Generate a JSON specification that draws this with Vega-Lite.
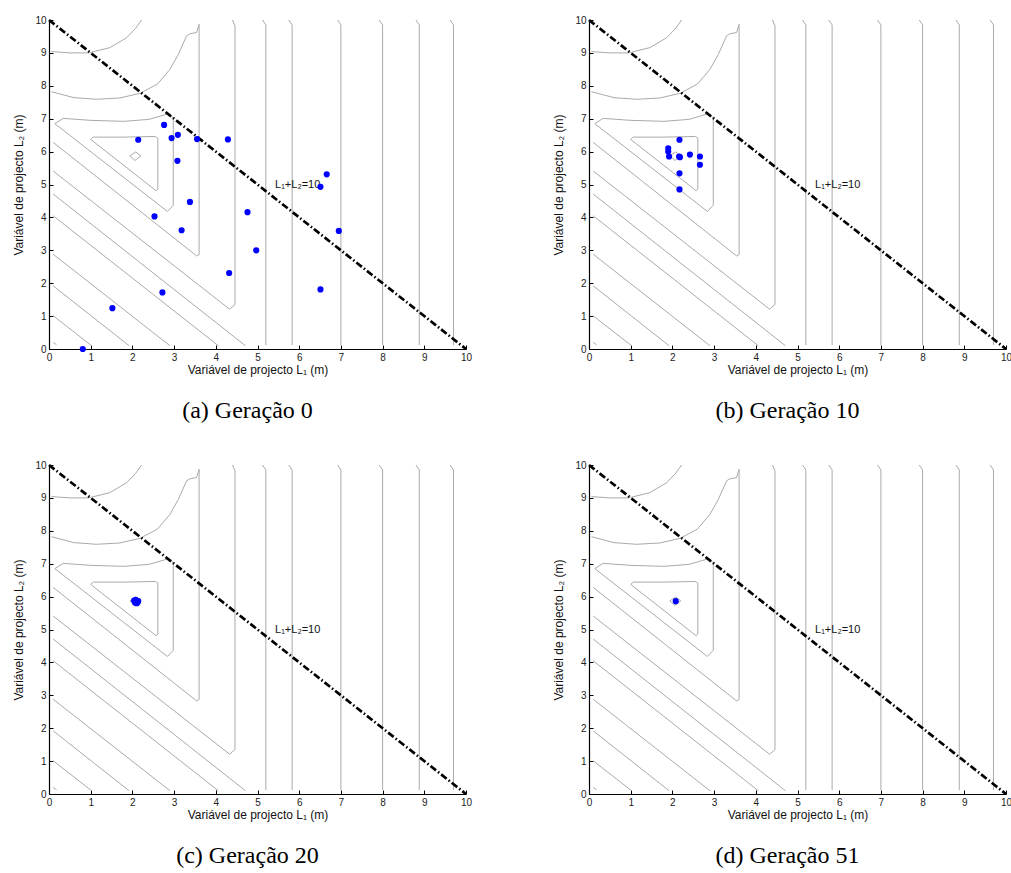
{
  "$schema": "https://vega.github.io/schema/vega-lite/v6.json",
  "background": "white",
  "padding": {"left": 12, "top": 14, "right": 0, "bottom": 0},
  "columns": 2,
  "spacing": {"row": 36, "column": 80},
  "datasets": {
    "contours": [
      {"id":1,"o":1,"x":1.94,"y":5.87},{"id":1,"o":2,"x":2.08,"y":5.99},{"id":1,"o":3,"x":2.2,"y":5.87},{"id":1,"o":4,"x":2.06,"y":5.73},{"id":1,"o":5,"x":1.94,"y":5.87},
      {"id":2,"o":1,"x":1.0,"y":6.37},{"id":2,"o":2,"x":1.06,"y":6.44},{"id":2,"o":3,"x":1.8,"y":6.44},{"id":2,"o":4,"x":2.55,"y":6.46},{"id":2,"o":5,"x":2.61,"y":6.41},{"id":2,"o":6,"x":2.61,"y":4.86},{"id":2,"o":7,"x":2.57,"y":4.81},{"id":2,"o":8,"x":1.0,"y":6.37},
      {"id":3,"o":1,"x":0.14,"y":6.85},{"id":3,"o":2,"x":0.34,"y":7.01},{"id":3,"o":3,"x":1.0,"y":6.95},{"id":3,"o":4,"x":1.8,"y":6.92},{"id":3,"o":5,"x":2.4,"y":6.98},{"id":3,"o":6,"x":2.86,"y":7.15},{"id":3,"o":7,"x":2.98,"y":7.03},{"id":3,"o":8,"x":2.98,"y":4.37},{"id":3,"o":9,"x":2.84,"y":4.18},{"id":3,"o":10,"x":0.14,"y":6.85},
      {"id":4,"o":1,"x":0.06,"y":7.82},{"id":4,"o":2,"x":0.6,"y":7.64},{"id":4,"o":3,"x":1.14,"y":7.59},{"id":4,"o":4,"x":1.7,"y":7.63},{"id":4,"o":5,"x":2.18,"y":7.77},{"id":4,"o":6,"x":2.6,"y":8.05},{"id":4,"o":7,"x":2.9,"y":8.5},{"id":4,"o":8,"x":3.1,"y":8.95},{"id":4,"o":9,"x":3.3,"y":9.52},{"id":4,"o":10,"x":3.38,"y":9.58},{"id":4,"o":11,"x":3.54,"y":9.62},{"id":4,"o":12,"x":3.6,"y":9.87},{"id":4,"o":13,"x":3.6,"y":2.87},{"id":4,"o":14,"x":3.54,"y":2.83},{"id":4,"o":15,"x":0.1,"y":6.28},
      {"id":5,"o":1,"x":4.4,"y":10.0},{"id":5,"o":2,"x":4.46,"y":9.82},{"id":5,"o":3,"x":4.46,"y":1.35},{"id":5,"o":4,"x":4.33,"y":1.21},{"id":5,"o":5,"x":0.1,"y":5.41},
      {"id":6,"o":1,"x":0.06,"y":9.04},{"id":6,"o":2,"x":0.5,"y":9.0},{"id":6,"o":3,"x":0.95,"y":9.0},{"id":6,"o":4,"x":1.46,"y":9.16},{"id":6,"o":5,"x":1.86,"y":9.46},{"id":6,"o":6,"x":2.08,"y":9.75},{"id":6,"o":7,"x":2.22,"y":10.0},
      {"id":7,"o":1,"x":0.1,"y":4.71},{"id":7,"o":2,"x":4.71,"y":0.1},
      {"id":8,"o":1,"x":0.1,"y":4.05},{"id":8,"o":2,"x":4.06,"y":0.1},
      {"id":9,"o":1,"x":0.1,"y":2.88},{"id":9,"o":2,"x":2.9,"y":0.1},
      {"id":10,"o":1,"x":0.1,"y":1.92},{"id":10,"o":2,"x":1.92,"y":0.1},
      {"id":11,"o":1,"x":0.1,"y":1.01},{"id":11,"o":2,"x":1.02,"y":0.1},
      {"id":12,"o":1,"x":0.1,"y":0.2},{"id":12,"o":2,"x":0.18,"y":0.13},
      {"id":13,"o":1,"x":5.12,"y":10.0},{"id":13,"o":2,"x":5.2,"y":9.85},{"id":13,"o":3,"x":5.2,"y":0.12},
      {"id":14,"o":1,"x":5.75,"y":10.0},{"id":14,"o":2,"x":5.83,"y":9.85},{"id":14,"o":3,"x":5.83,"y":0.12},
      {"id":15,"o":1,"x":6.92,"y":10.0},{"id":15,"o":2,"x":7.0,"y":9.85},{"id":15,"o":3,"x":7.0,"y":0.12},
      {"id":16,"o":1,"x":7.92,"y":10.0},{"id":16,"o":2,"x":8.0,"y":9.85},{"id":16,"o":3,"x":8.0,"y":0.12},
      {"id":17,"o":1,"x":8.8,"y":10.0},{"id":17,"o":2,"x":8.88,"y":9.85},{"id":17,"o":3,"x":8.88,"y":0.12},
      {"id":18,"o":1,"x":9.62,"y":10.0},{"id":18,"o":2,"x":9.7,"y":9.85},{"id":18,"o":3,"x":9.7,"y":0.12}
    ],
    "diag": [{"x":0,"y":10},{"x":10,"y":0}],
    "lab": [{"x":5.42,"y":5.0,"t":"L₁+L₂=10"}],
    "pts": [
      {"p":"a","x":2.14,"y":6.36},{"p":"a","x":2.76,"y":6.81},{"p":"a","x":2.94,"y":6.41},{"p":"a","x":3.09,"y":6.51},{"p":"a","x":3.55,"y":6.38},
      {"p":"a","x":4.29,"y":6.37},{"p":"a","x":3.08,"y":5.72},{"p":"a","x":3.38,"y":4.47},{"p":"a","x":2.53,"y":4.03},{"p":"a","x":3.18,"y":3.61},
      {"p":"a","x":4.76,"y":4.16},{"p":"a","x":4.97,"y":3.0},{"p":"a","x":4.32,"y":2.31},{"p":"a","x":2.72,"y":1.72},{"p":"a","x":1.52,"y":1.24},
      {"p":"a","x":0.81,"y":0.0},{"p":"a","x":6.51,"y":4.93},{"p":"a","x":6.66,"y":5.31},{"p":"a","x":6.95,"y":3.59},{"p":"a","x":6.51,"y":1.81},
      {"p":"b","x":2.17,"y":6.36},{"p":"b","x":1.9,"y":6.1},{"p":"b","x":1.9,"y":6.0},{"p":"b","x":1.92,"y":5.85},{"p":"b","x":2.16,"y":5.85},
      {"p":"b","x":2.18,"y":5.83},{"p":"b","x":2.42,"y":5.91},{"p":"b","x":2.66,"y":5.85},{"p":"b","x":2.66,"y":5.6},{"p":"b","x":2.17,"y":5.34},{"p":"b","x":2.17,"y":4.85},
      {"p":"c","x":2.04,"y":5.88},{"p":"c","x":2.08,"y":5.86},{"p":"c","x":2.12,"y":5.84},{"p":"c","x":2.1,"y":5.8},{"p":"c","x":2.06,"y":5.82},{"p":"c","x":2.14,"y":5.86},{"p":"c","x":2.08,"y":5.9},{"p":"c","x":2.12,"y":5.81},
      {"p":"d","x":2.08,"y":5.86}
    ]
  },
  "concat": [
    {
      "width": 417, "height": 329,
      "title": {"text": "(a)  Geração 0", "orient": "bottom", "anchor": "middle", "dx": -10},
      "encoding": {
        "x": {"field": "x", "type": "quantitative", "scale": {"domain": [0, 10], "nice": false, "zero": false}, "axis": {"title": "Variável de projecto L₁ (m)", "values": [0,1,2,3,4,5,6,7,8,9,10]}},
        "y": {"field": "y", "type": "quantitative", "scale": {"domain": [0, 10], "nice": false, "zero": false}, "axis": {"title": "Variável de projecto L₂ (m)", "values": [0,1,2,3,4,5,6,7,8,9,10]}}
      },
      "layer": [
        {"data": {"name": "contours"}, "mark": {"type": "line", "stroke": "#aaaaaa", "strokeWidth": 1}, "encoding": {"detail": {"field": "id", "type": "nominal"}, "order": {"field": "o", "type": "quantitative"}}},
        {"data": {"name": "diag"}, "mark": {"type": "line", "stroke": "black", "strokeWidth": 2.7, "strokeDash": [7, 2.5, 1.5, 2.5]}, "encoding": {}},
        {"data": {"name": "lab"}, "mark": {"type": "text", "align": "left", "baseline": "middle", "fontSize": 11, "font": "Liberation Sans", "color": "#111"}, "encoding": {"text": {"field": "t"}}},
        {"data": {"name": "pts"}, "transform": [{"filter": "datum.p === 'a'"}], "mark": {"type": "circle", "color": "#0000ff", "opacity": 1, "size": 38}}
      ]
    },
    {
      "width": 417, "height": 329,
      "title": {"text": "(b)  Geração 10", "orient": "bottom", "anchor": "middle", "dx": -10},
      "encoding": {
        "x": {"field": "x", "type": "quantitative", "scale": {"domain": [0, 10], "nice": false, "zero": false}, "axis": {"title": "Variável de projecto L₁ (m)", "values": [0,1,2,3,4,5,6,7,8,9,10]}},
        "y": {"field": "y", "type": "quantitative", "scale": {"domain": [0, 10], "nice": false, "zero": false}, "axis": {"title": "Variável de projecto L₂ (m)", "values": [0,1,2,3,4,5,6,7,8,9,10]}}
      },
      "layer": [
        {"data": {"name": "contours"}, "mark": {"type": "line", "stroke": "#aaaaaa", "strokeWidth": 1}, "encoding": {"detail": {"field": "id", "type": "nominal"}, "order": {"field": "o", "type": "quantitative"}}},
        {"data": {"name": "diag"}, "mark": {"type": "line", "stroke": "black", "strokeWidth": 2.7, "strokeDash": [7, 2.5, 1.5, 2.5]}, "encoding": {}},
        {"data": {"name": "lab"}, "mark": {"type": "text", "align": "left", "baseline": "middle", "fontSize": 11, "font": "Liberation Sans", "color": "#111"}, "encoding": {"text": {"field": "t"}}},
        {"data": {"name": "pts"}, "transform": [{"filter": "datum.p === 'b'"}], "mark": {"type": "circle", "color": "#0000ff", "opacity": 1, "size": 38}}
      ]
    },
    {
      "width": 417, "height": 329,
      "title": {"text": "(c)  Geração 20", "orient": "bottom", "anchor": "middle", "dx": -10},
      "encoding": {
        "x": {"field": "x", "type": "quantitative", "scale": {"domain": [0, 10], "nice": false, "zero": false}, "axis": {"title": "Variável de projecto L₁ (m)", "values": [0,1,2,3,4,5,6,7,8,9,10]}},
        "y": {"field": "y", "type": "quantitative", "scale": {"domain": [0, 10], "nice": false, "zero": false}, "axis": {"title": "Variável de projecto L₂ (m)", "values": [0,1,2,3,4,5,6,7,8,9,10]}}
      },
      "layer": [
        {"data": {"name": "contours"}, "mark": {"type": "line", "stroke": "#aaaaaa", "strokeWidth": 1}, "encoding": {"detail": {"field": "id", "type": "nominal"}, "order": {"field": "o", "type": "quantitative"}}},
        {"data": {"name": "diag"}, "mark": {"type": "line", "stroke": "black", "strokeWidth": 2.7, "strokeDash": [7, 2.5, 1.5, 2.5]}, "encoding": {}},
        {"data": {"name": "lab"}, "mark": {"type": "text", "align": "left", "baseline": "middle", "fontSize": 11, "font": "Liberation Sans", "color": "#111"}, "encoding": {"text": {"field": "t"}}},
        {"data": {"name": "pts"}, "transform": [{"filter": "datum.p === 'c'"}], "mark": {"type": "circle", "color": "#0000ff", "opacity": 1, "size": 38}}
      ]
    },
    {
      "width": 417, "height": 329,
      "title": {"text": "(d)  Geração 51", "orient": "bottom", "anchor": "middle", "dx": -10},
      "encoding": {
        "x": {"field": "x", "type": "quantitative", "scale": {"domain": [0, 10], "nice": false, "zero": false}, "axis": {"title": "Variável de projecto L₁ (m)", "values": [0,1,2,3,4,5,6,7,8,9,10]}},
        "y": {"field": "y", "type": "quantitative", "scale": {"domain": [0, 10], "nice": false, "zero": false}, "axis": {"title": "Variável de projecto L₂ (m)", "values": [0,1,2,3,4,5,6,7,8,9,10]}}
      },
      "layer": [
        {"data": {"name": "contours"}, "mark": {"type": "line", "stroke": "#aaaaaa", "strokeWidth": 1}, "encoding": {"detail": {"field": "id", "type": "nominal"}, "order": {"field": "o", "type": "quantitative"}}},
        {"data": {"name": "diag"}, "mark": {"type": "line", "stroke": "black", "strokeWidth": 2.7, "strokeDash": [7, 2.5, 1.5, 2.5]}, "encoding": {}},
        {"data": {"name": "lab"}, "mark": {"type": "text", "align": "left", "baseline": "middle", "fontSize": 11, "font": "Liberation Sans", "color": "#111"}, "encoding": {"text": {"field": "t"}}},
        {"data": {"name": "pts"}, "transform": [{"filter": "datum.p === 'd'"}], "mark": {"type": "circle", "color": "#0000ff", "opacity": 1, "size": 38}}
      ]
    }
  ],
  "config": {
    "view": {"stroke": null},
    "title": {"font": "Liberation Serif", "fontSize": 24, "fontWeight": "normal", "color": "black", "offset": 24},
    "axis": {
      "grid": false, "domainColor": "black", "domainWidth": 1.2, "tickColor": "black", "tickSize": -4,
      "labelFont": "Liberation Sans", "labelFontSize": 10, "labelColor": "#222", "labelFlush": false, "labelOverlap": false,
      "titleFont": "Liberation Sans", "titleFontSize": 12, "titleFontWeight": "normal", "titleColor": "#111"
    },
    "axisX": {"labelPadding": 7, "titlePadding": 2},
    "axisY": {"labelPadding": 7, "titlePadding": 9}
  }
}
